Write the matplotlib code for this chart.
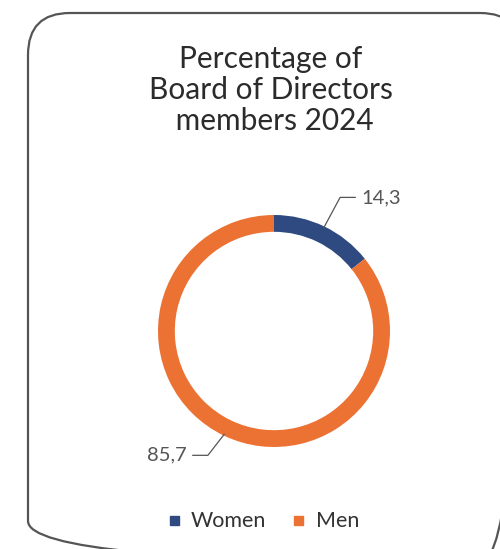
import numpy as np
import matplotlib
matplotlib.use("Agg")
import matplotlib.pyplot as plt
from matplotlib.patches import FancyBboxPatch, Rectangle

# ---- data ----
labels = ["Women", "Men"]
values = [14.3, 85.7]
value_text = ["14,3", "85,7"]
colors = ["#2E4A80", "#EC7233"]
title = "Percentage of\nBoard of Directors\n members 2024"

W, H = 500, 549
plt.rcParams["font.family"] = ["Lato", "DejaVu Sans"]

fig = plt.figure(figsize=(W / 100, H / 100), dpi=100)

# background axes in pixel coordinates (y down)
bg = fig.add_axes([0, 0, 1, 1])
bg.set_xlim(0, W)
bg.set_ylim(H, 0)
bg.axis("off")

frame = FancyBboxPatch((28, 13), 494, 550, boxstyle="round,pad=0,rounding_size=42",
                       fill=False, edgecolor="#555555", linewidth=1.6, clip_on=False)
bg.add_patch(frame)

bg.text(271, 90, title, ha="center", va="center", fontsize=21.5,
        color="#2b2b2b", linespacing=1.12)

# donut
cx, cy, r = 274, 331, 116
ax = fig.add_axes([(cx - r) / W, 1 - (cy + r) / H, 2 * r / W, 2 * r / H])
wedges, _ = ax.pie(values, colors=colors, startangle=90, counterclock=False,
                   radius=1.0, wedgeprops=dict(width=0.145, edgecolor="none"))
ax.set_xlim(-1, 1)
ax.set_ylim(-1, 1)
ax.axis("off")

# leader lines and value labels
for w, txt in zip(wedges, value_text):
    mid = np.deg2rad((w.theta1 + w.theta2) / 2)
    x0, y0 = np.cos(mid) * 0.99, np.sin(mid) * 0.99
    side = 1 if x0 > 0 else -1
    x1 = x0 + side * 0.14
    y1 = y0 + 0.26 if y0 > 0 else y0 - 0.18
    x2 = x1 + side * 0.13
    ax.plot([x0, x1, x2], [y0, y1, y1], color="#555555", lw=0.9, clip_on=False)
    ax.text(x2 + side * 0.05, y1, txt, ha="left" if side > 0 else "right",
            va="center", fontsize=14.5, color="#555555")

# legend
bg.add_patch(Rectangle((170, 516), 9, 9, color=colors[0]))
bg.text(191, 521, labels[0], va="center", ha="left", fontsize=15.5, color="#333333")
bg.add_patch(Rectangle((294, 516), 9, 9, color=colors[1]))
bg.text(316, 521, labels[1], va="center", ha="left", fontsize=15.5, color="#333333")

fig.savefig("out.png", dpi=100)
